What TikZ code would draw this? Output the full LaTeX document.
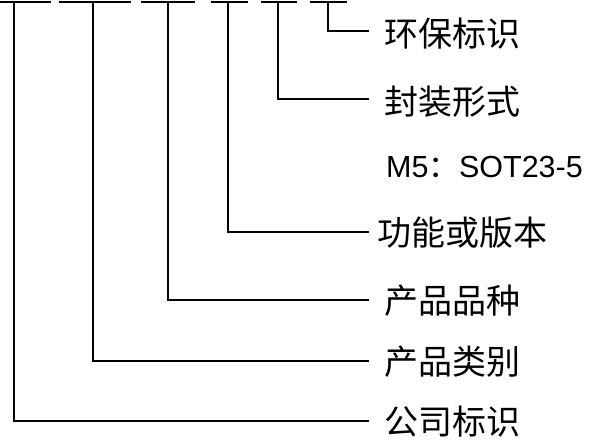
\documentclass[tikz,border=0pt]{standalone}
\usepackage{fontspec}
\setmainfont{Liberation Sans}
\newfontfamily\cjk{Noto Sans CJK SC}
\begin{document}
\begin{tikzpicture}[x=1pt,y=-1pt,
  ln/.style={line width=2.2pt,line cap=rect},
  lab/.style={anchor=west,inner sep=0pt,font=\cjk\fontsize{34}{38}\selectfont},
  code/.style={anchor=west,inner sep=0pt,font=\fontsize{30.5}{35}\selectfont}]
\useasboundingbox (0,0) rectangle (589,442);
% top bars
\coordinate (a1) at (1,2);   \coordinate (b1) at (50,2);  \coordinate (m1) at (14,2);
\coordinate (a2) at (60,2);  \coordinate (b2) at (130,2); \coordinate (m2) at (93,2);
\coordinate (a3) at (142,2); \coordinate (b3) at (194,2); \coordinate (m3) at (168,2);
\coordinate (a4) at (212,2); \coordinate (b4) at (247,2); \coordinate (m4) at (228,2);
\coordinate (a5) at (262,2); \coordinate (b5) at (296,2); \coordinate (m5) at (278,2);
\coordinate (a6) at (311,2); \coordinate (b6) at (346,2); \coordinate (m6) at (328,2);
\foreach \i in {1,...,6} \draw[ln] (a\i) -- (b\i);
% line ends
\coordinate (e6) at (369,31);
\coordinate (e5) at (369,99);
\coordinate (e4) at (369,232);
\coordinate (e3) at (369,300);
\coordinate (e2) at (369,361);
\coordinate (e1) at (369,421);
% labels
\node[lab] (t6) at (384,34) {环保标识};
\node[lab] (t5) at (384,102) {封装形式};
\node[code] (c5) at (386,167) {M5{\cjk ：}SOT23-5};
\node[lab] (t4) at (377,233) {功能或版本};
\node[lab] (t3) at (384,301) {产品品种};
\node[lab] (t2) at (384,362) {产品类别};
\node[lab] (t1) at (384,422) {公司标识};
% connectors
\foreach \i in {1,...,6} \draw[ln,line cap=butt] (m\i) |- (e\i);
\end{tikzpicture}
\end{document}
